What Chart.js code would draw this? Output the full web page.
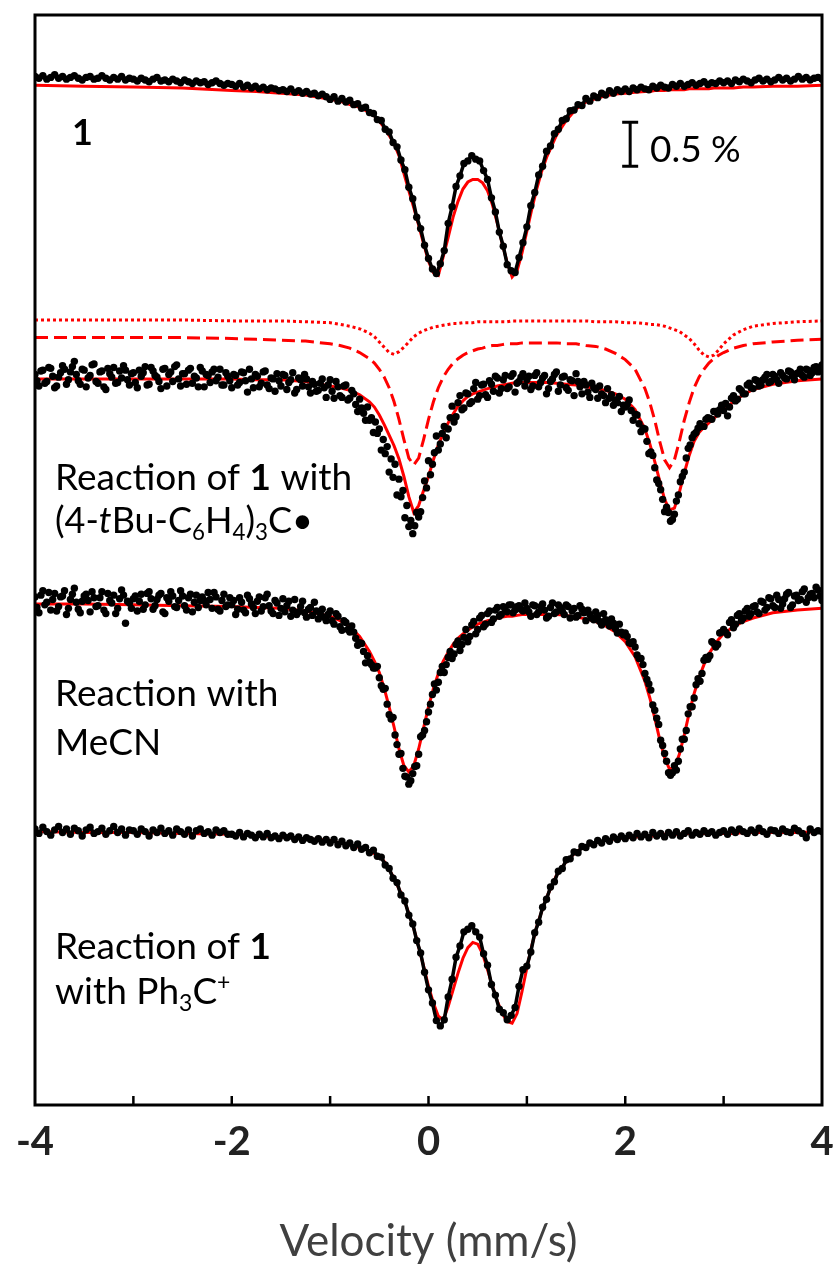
<!DOCTYPE html>
<html>
<head>
<meta charset="utf-8">
<title>Mössbauer spectra</title>
<script src="https://cdn.jsdelivr.net/npm/chart.js@4.4.1/dist/chart.umd.min.js"></script>
<style>
  html, body { margin: 0; padding: 0; background: #fff; }
  #wrap { position: relative; width: 836px; height: 1264px; }
</style>
</head>
<body>
<div id="wrap"><canvas id="moss"></canvas></div>
<script>
// velocity channels of the measured spectra (mm/s)
const dataV = [
  -4,-3.96,-3.92,-3.88,-3.84,-3.8,-3.76,-3.72,-3.68,-3.64,-3.6,-3.56,-3.52,-3.48,-3.44,-3.4,-3.36,-3.32,-3.28,-3.24,-3.2,-3.16,-3.12,-3.08,-3.04,
  -3,-2.96,-2.92,-2.88,-2.84,-2.8,-2.76,-2.72,-2.68,-2.64,-2.6,-2.56,-2.52,-2.48,-2.44,-2.4,-2.36,-2.32,-2.28,-2.24,-2.2,-2.16,-2.12,-2.08,-2.04,
  -2,-1.96,-1.92,-1.88,-1.84,-1.8,-1.76,-1.72,-1.68,-1.64,-1.6,-1.56,-1.52,-1.48,-1.44,-1.4,-1.36,-1.32,-1.28,-1.24,-1.2,-1.16,-1.12,-1.08,-1.04,
  -1,-0.96,-0.92,-0.88,-0.84,-0.8,-0.76,-0.72,-0.68,-0.64,-0.6,-0.56,-0.52,-0.48,-0.44,-0.4,-0.36,-0.32,-0.28,-0.24,-0.2,-0.16,-0.12,-0.08,-0.04,
  0,0.04,0.08,0.12,0.16,0.2,0.24,0.28,0.32,0.36,0.4,0.44,0.48,0.52,0.56,0.6,0.64,0.68,0.72,0.76,0.8,0.84,0.88,0.92,0.96,
  1,1.04,1.08,1.12,1.16,1.2,1.24,1.28,1.32,1.36,1.4,1.44,1.48,1.52,1.56,1.6,1.64,1.68,1.72,1.76,1.8,1.84,1.88,1.92,1.96,
  2,2.04,2.08,2.12,2.16,2.2,2.24,2.28,2.32,2.36,2.4,2.44,2.48,2.52,2.56,2.6,2.64,2.68,2.72,2.76,2.8,2.84,2.88,2.92,2.96,
  3,3.04,3.08,3.12,3.16,3.2,3.24,3.28,3.32,3.36,3.4,3.44,3.48,3.52,3.56,3.6,3.64,3.68,3.72,3.76,3.8,3.84,3.88,3.92,3.96,4
];
// in-between channels, used for the two noisier spectra
const dataVh = [
  -3.98,-3.94,-3.9,-3.86,-3.82,-3.78,-3.74,-3.7,-3.66,-3.62,-3.58,-3.54,-3.5,-3.46,-3.42,-3.38,-3.34,-3.3,-3.26,-3.22,-3.18,-3.14,-3.1,-3.06,-3.02,
  -2.98,-2.94,-2.9,-2.86,-2.82,-2.78,-2.74,-2.7,-2.66,-2.62,-2.58,-2.54,-2.5,-2.46,-2.42,-2.38,-2.34,-2.3,-2.26,-2.22,-2.18,-2.14,-2.1,-2.06,-2.02,
  -1.98,-1.94,-1.9,-1.86,-1.82,-1.78,-1.74,-1.7,-1.66,-1.62,-1.58,-1.54,-1.5,-1.46,-1.42,-1.38,-1.34,-1.3,-1.26,-1.22,-1.18,-1.14,-1.1,-1.06,-1.02,
  -0.98,-0.94,-0.9,-0.86,-0.82,-0.78,-0.74,-0.7,-0.66,-0.62,-0.58,-0.54,-0.5,-0.46,-0.42,-0.38,-0.34,-0.3,-0.26,-0.22,-0.18,-0.14,-0.1,-0.06,-0.02,
  0.02,0.06,0.1,0.14,0.18,0.22,0.26,0.3,0.34,0.38,0.42,0.46,0.5,0.54,0.58,0.62,0.66,0.7,0.74,0.78,0.82,0.86,0.9,0.94,0.98,
  1.02,1.06,1.1,1.14,1.18,1.22,1.26,1.3,1.34,1.38,1.42,1.46,1.5,1.54,1.58,1.62,1.66,1.7,1.74,1.78,1.82,1.86,1.9,1.94,1.98,
  2.02,2.06,2.1,2.14,2.18,2.22,2.26,2.3,2.34,2.38,2.42,2.46,2.5,2.54,2.58,2.62,2.66,2.7,2.74,2.78,2.82,2.86,2.9,2.94,2.98,
  3.02,3.06,3.1,3.14,3.18,3.22,3.26,3.3,3.34,3.38,3.42,3.46,3.5,3.54,3.58,3.62,3.66,3.7,3.74,3.78,3.82,3.86,3.9,3.94,3.98
];

// velocity points of the fitted curves (mm/s)
const fitV = [
  -4,-3.5,-3,-2.5,-2,-1.75,-1.5,-1.25,-1,
  -0.9,-0.8,-0.7,-0.6,
  -0.55,-0.5,-0.45,-0.4,-0.35,-0.3,-0.25,-0.2,-0.15,-0.1,-0.05,0,
  0.05,0.1,0.15,0.2,0.25,0.3,0.35,0.4,0.45,0.5,0.55,0.6,0.65,0.7,0.75,0.8,0.85,0.9,0.95,1,1.05,1.1,1.15,1.2,
  1.3,1.4,1.5,1.6,1.7,1.8,1.9,2,2.1,2.2,
  2.25,2.3,2.35,2.4,2.45,2.5,2.55,2.6,2.65,2.7,2.75,2.8,2.85,2.9,2.95,3,
  3.1,3.2,3.3,3.5,3.75,4
];

// measured spectra: change of transmission in % (0 = baseline)
const obs1 = [
  0.10,0.08,0.11,0.07,0.09,0.12,0.08,0.10,0.07,0.09,0.11,0.08,0.06,0.09,0.10,0.07,0.08,0.11,0.08,0.06,0.09,0.07,0.10,0.06,0.08,
  0.07,0.05,0.08,0.06,0.04,0.07,0.09,0.05,0.06,0.04,0.07,0.05,0.03,0.06,0.04,0.02,0.05,0.03,0.04,0.01,0.03,0.05,0.02,0.00,0.02,
  0.01,-0.01,0.02,-0.02,0.00,-0.03,-0.01,-0.04,-0.02,-0.05,-0.03,-0.04,-0.06,-0.05,-0.07,-0.04,-0.08,-0.06,-0.09,-0.07,-0.10,-0.09,-0.12,-0.10,-0.13,
  -0.16,-0.13,-0.18,-0.15,-0.19,-0.17,-0.22,-0.21,-0.26,-0.25,-0.31,-0.32,-0.39,-0.40,-0.50,-0.53,-0.65,-0.70,-0.85,-0.96,-1.16,-1.29,-1.50,-1.63,-1.82,
  -1.97,-2.09,-2.14,-2.03,-1.88,-1.57,-1.38,-1.15,-1.03,-0.89,-0.86,-0.80,-0.84,-0.86,-0.97,-1.07,-1.28,-1.44,-1.67,-1.83,-2.04,-2.11,-2.13,-1.96,-1.79,
  -1.61,-1.37,-1.22,-1.02,-0.92,-0.75,-0.69,-0.55,-0.50,-0.40,-0.38,-0.29,-0.28,-0.22,-0.23,-0.15,-0.18,-0.12,-0.14,-0.09,-0.11,-0.06,-0.09,-0.05,-0.07,
  -0.04,-0.07,-0.03,-0.05,-0.02,-0.04,-0.05,-0.01,-0.03,0.00,-0.02,-0.03,0.01,-0.01,0.02,-0.01,0.01,0.03,0.00,0.02,0.04,0.01,0.03,0.02,0.05,
  0.03,0.05,0.02,0.06,0.04,0.07,0.05,0.03,0.06,0.08,0.05,0.07,0.04,0.06,0.09,0.06,0.08,0.05,0.07,0.10,0.07,0.09,0.06,0.08,0.09,0.07
];
const obs2 = [
  0.04,-0.09,0.09,-0.04,0.11,-0.11,0.01,0.14,-0.07,0.07,0.19,-0.03,0.10,-0.10,0.03,0.16,-0.06,0.08,-0.13,0.05,0.12,-0.05,0.00,0.09,-0.08,
  0.06,-0.11,0.02,0.13,-0.07,0.08,0.01,-0.12,0.11,0.04,-0.04,0.15,-0.09,0.05,0.09,-0.06,0.00,0.12,-0.10,0.03,0.07,-0.03,0.10,-0.08,0.02,
  -0.11,0.03,-0.05,0.06,-0.16,-0.01,0.04,-0.10,0.07,-0.08,0.00,-0.15,-0.03,0.04,-0.13,-0.02,-0.17,0.00,-0.09,-0.01,-0.17,-0.07,-0.14,-0.01,-0.22,
  -0.02,-0.23,-0.10,-0.22,-0.08,-0.23,-0.18,-0.38,-0.34,-0.48,-0.48,-0.62,-0.63,-0.82,-0.86,-1.07,-1.13,-1.33,-1.35,-1.59,-1.69,-1.77,-1.53,-1.52,-1.17,
  -0.94,-0.98,-0.66,-0.75,-0.55,-0.58,-0.32,-0.44,-0.20,-0.34,-0.18,-0.27,-0.05,-0.20,-0.07,-0.22,-0.07,0.02,-0.17,-0.02,-0.12,0.02,-0.16,-0.04,0.05,
  -0.02,-0.13,0.03,-0.10,0.00,-0.18,-0.04,0.04,-0.15,0.01,-0.11,-0.02,-0.20,-0.04,-0.18,-0.08,-0.22,-0.11,-0.23,-0.18,-0.28,-0.23,-0.31,-0.28,-0.38,
  -0.33,-0.25,-0.48,-0.42,-0.61,-0.58,-0.86,-0.88,-1.16,-1.27,-1.52,-1.53,-1.61,-1.40,-1.18,-1.07,-0.80,-0.68,-0.62,-0.52,-0.55,-0.45,-0.47,-0.38,-0.36,
  -0.37,-0.43,-0.23,-0.26,-0.12,-0.18,-0.08,-0.11,-0.02,-0.09,-0.02,0.04,-0.04,0.02,-0.06,0.03,-0.01,0.07,-0.02,0.06,0.03,0.10,0.03,0.12,0.07,0.15
];
const obs2h = [
  -0.03,0.08,-0.06,0.12,0.02,-0.09,0.06,0.10,-0.02,0.13,0.04,-0.07,0.09,0.00,0.15,-0.04,0.07,-0.10,0.11,0.01,-0.06,0.08,0.14,-0.02,0.05,
  -0.05,0.09,0.06,-0.08,0.12,0.03,-0.04,0.10,-0.09,0.07,0.13,-0.01,0.05,-0.07,0.11,0.02,-0.10,0.08,0.04,-0.05,0.10,0.01,-0.08,0.06,-0.03,
  0.04,-0.08,0.07,-0.03,0.10,-0.11,0.02,-0.06,0.08,-0.12,-0.01,0.05,-0.09,0.03,-0.05,0.06,-0.13,-0.02,0.04,-0.10,-0.04,-0.15,-0.06,-0.11,-0.08,
  -0.15,-0.04,-0.20,-0.09,-0.25,-0.14,-0.30,-0.24,-0.40,-0.33,-0.45,-0.50,-0.58,-0.70,-0.78,-0.92,-0.98,-1.15,-1.28,-1.45,-1.62,-1.68,-1.58,-1.36,-1.25,
  -1.10,-0.85,-0.82,-0.63,-0.68,-0.45,-0.50,-0.28,-0.36,-0.17,-0.29,-0.12,-0.24,-0.08,-0.19,-0.03,-0.15,0.00,-0.12,0.03,-0.10,0.05,-0.06,0.01,-0.09,
  0.02,-0.09,0.06,-0.05,0.03,-0.12,-0.01,0.07,-0.08,0.02,-0.14,-0.03,0.05,-0.10,-0.04,-0.16,-0.06,-0.13,-0.09,-0.20,-0.12,-0.19,-0.25,-0.21,-0.31,
  -0.30,-0.37,-0.41,-0.52,-0.57,-0.72,-0.84,-1.02,-1.20,-1.38,-1.47,-1.63,-1.55,-1.33,-1.12,-0.91,-0.76,-0.64,-0.57,-0.55,-0.47,-0.46,-0.38,-0.41,-0.31,
  -0.29,-0.33,-0.20,-0.24,-0.14,-0.18,-0.06,-0.12,-0.03,-0.08,0.01,-0.05,0.04,-0.02,0.06,0.00,0.08,0.02,0.05,0.10,0.01,0.09,0.06,0.13,0.10
];
const obs3 = [
  0.07,-0.11,0.14,0.01,-0.08,0.11,-0.04,0.08,-0.13,0.04,0.17,-0.07,0.02,0.10,-0.10,0.06,-0.03,0.13,-0.12,0.03,0.09,-0.06,0.15,-0.23,0.00,
  0.05,-0.09,0.10,-0.02,0.13,-0.07,0.04,0.11,-0.12,0.02,0.08,-0.05,0.14,-0.03,0.06,-0.10,0.09,0.03,0.03,0.12,-0.06,0.07,-0.09,0.10,-0.02,
  -0.02,-0.13,0.06,-0.08,0.09,-0.01,-0.12,0.07,-0.04,0.10,-0.09,0.03,-0.14,0.05,-0.03,-0.15,0.04,-0.10,0.02,-0.16,-0.05,0.01,-0.18,-0.07,-0.20,
  -0.09,-0.24,-0.15,-0.31,-0.22,-0.33,-0.33,-0.48,-0.46,-0.68,-0.67,-0.74,-0.72,-0.94,-0.97,-1.27,-1.30,-1.61,-1.71,-1.97,-2.06,-1.94,-1.85,-1.52,-1.45,
  -1.24,-1.04,-0.99,-0.79,-0.79,-0.62,-0.63,-0.47,-0.54,-0.39,-0.44,-0.25,-0.35,-0.17,-0.27,-0.12,-0.22,-0.08,-0.15,-0.04,-0.10,-0.02,-0.08,-0.03,-0.09,
  -0.06,-0.15,-0.03,-0.10,-0.01,-0.17,-0.05,-0.12,-0.02,-0.09,-0.02,-0.17,-0.06,-0.14,-0.07,-0.20,-0.13,-0.19,-0.14,-0.25,-0.19,-0.26,-0.23,-0.34,-0.33,
  -0.34,-0.45,-0.44,-0.59,-0.63,-0.80,-0.92,-1.16,-1.31,-1.56,-1.71,-1.93,-1.93,-1.90,-1.66,-1.55,-1.26,-1.18,-0.93,-0.89,-0.65,-0.64,-0.44,-0.50,-0.34,
  -0.30,-0.36,-0.19,-0.24,-0.12,-0.17,-0.06,-0.12,-0.03,-0.12,0.01,-0.05,0.05,-0.05,0.04,-0.01,0.10,-0.05,0.08,0.03,0.13,0.01,0.10,0.06,0.15,0.03
];
const obs3h = [
  -0.05,0.09,-0.02,0.12,0.04,-0.09,0.07,0.14,-0.06,0.10,0.01,-0.11,0.08,0.03,0.13,-0.04,0.06,-0.08,0.11,0.00,-0.12,0.05,0.09,0.02,-0.06,
  0.08,0.02,-0.07,0.11,0.05,-0.03,0.09,-0.10,0.06,0.13,-0.04,0.03,0.08,-0.08,0.10,0.01,-0.05,0.07,-0.02,0.04,0.12,-0.07,0.03,-0.04,0.06,
  0.03,-0.07,0.01,-0.11,0.05,-0.05,0.02,-0.09,0.06,-0.03,-0.12,0.00,-0.06,-0.10,0.02,-0.08,-0.13,-0.04,-0.11,-0.07,-0.14,-0.09,-0.12,-0.16,-0.13,
  -0.20,-0.12,-0.27,-0.20,-0.30,-0.26,-0.40,-0.45,-0.55,-0.60,-0.70,-0.74,-0.85,-0.98,-1.15,-1.32,-1.50,-1.72,-1.88,-1.98,-2.02,-1.86,-1.72,-1.50,-1.35,
  -1.15,-0.92,-0.90,-0.72,-0.70,-0.55,-0.58,-0.43,-0.47,-0.30,-0.38,-0.21,-0.30,-0.14,-0.24,-0.09,-0.18,-0.05,-0.13,-0.08,-0.02,-0.11,-0.04,-0.07,0.00,
  -0.10,-0.02,-0.13,-0.04,-0.08,-0.15,0.00,-0.10,-0.05,-0.13,-0.04,-0.09,-0.16,-0.03,-0.11,-0.08,-0.17,-0.10,-0.21,-0.12,-0.22,-0.18,-0.29,-0.24,-0.36,
  -0.38,-0.46,-0.50,-0.63,-0.70,-0.87,-0.99,-1.22,-1.38,-1.62,-1.80,-1.96,-1.85,-1.80,-1.55,-1.45,-1.18,-1.08,-0.86,-0.80,-0.62,-0.60,-0.46,-0.47,-0.33,
  -0.33,-0.22,-0.28,-0.14,-0.20,-0.09,-0.15,-0.04,-0.10,0.02,-0.08,0.06,-0.03,0.09,-0.06,0.05,0.12,-0.02,0.09,0.04,0.16,0.06,0.11,0.18,0.08
];
const obs4 = [
  0.03,-0.02,0.05,0.00,-0.04,0.02,0.06,-0.01,0.03,-0.03,0.04,0.01,-0.05,0.02,0.05,-0.02,0.00,0.04,-0.03,0.01,0.06,-0.01,0.03,-0.04,0.02,
  0.01,-0.03,0.03,0.00,-0.05,0.02,-0.01,0.04,-0.02,0.01,-0.04,0.03,0.00,-0.03,0.02,-0.05,0.01,0.03,-0.02,0.00,-0.04,0.02,-0.01,0.01,-0.03,
  -0.03,-0.05,-0.01,-0.06,-0.02,-0.04,-0.07,-0.03,-0.06,-0.02,-0.07,-0.05,-0.08,-0.04,-0.07,-0.05,-0.09,-0.06,-0.10,-0.07,-0.09,-0.11,-0.08,-0.12,-0.09,
  -0.13,-0.09,-0.15,-0.11,-0.16,-0.13,-0.18,-0.14,-0.20,-0.18,-0.24,-0.21,-0.28,-0.29,-0.38,-0.42,-0.53,-0.58,-0.72,-0.79,-0.95,-1.05,-1.24,-1.38,-1.60,
  -1.80,-1.95,-2.15,-2.21,-2.14,-1.88,-1.68,-1.43,-1.30,-1.14,-1.11,-1.07,-1.14,-1.20,-1.39,-1.52,-1.74,-1.86,-2.02,-2.06,-2.14,-2.09,-2.00,-1.76,-1.57,
  -1.53,-1.37,-1.15,-1.03,-0.86,-0.77,-0.63,-0.57,-0.45,-0.42,-0.32,-0.31,-0.23,-0.24,-0.17,-0.18,-0.13,-0.15,-0.10,-0.13,-0.08,-0.11,-0.06,-0.09,-0.05,
  -0.08,-0.04,-0.07,-0.02,-0.06,-0.03,-0.07,-0.01,-0.05,-0.02,-0.06,-0.01,-0.04,0.00,-0.05,-0.02,0.01,-0.04,-0.01,-0.03,0.01,-0.02,0.00,-0.04,-0.01,
  0.01,-0.03,0.02,-0.01,0.03,0.00,-0.02,0.02,-0.01,0.04,0.00,-0.03,0.02,0.01,-0.02,0.03,0.00,-0.01,0.04,0.01,-0.02,-0.07,0.03,-0.01,0.01,0.00
];

// fitted curves (same units, on fitV)
const fit1 = [
  0,-0.01,-0.02,-0.03,-0.06,-0.07,-0.09,-0.11,-0.16,
  -0.18,-0.22,-0.25,-0.31,
  -0.35,-0.41,-0.48,-0.57,-0.66,-0.80,-1.00,-1.20,-1.39,-1.59,-1.80,-2.00,
  -2.13,-2.16,-1.95,-1.73,-1.50,-1.32,-1.18,-1.10,-1.07,-1.07,-1.11,-1.20,-1.36,-1.57,-1.80,-2.02,-2.18,-2.11,-1.91,-1.66,-1.41,-1.18,-0.98,-0.82,
  -0.57,-0.40,-0.27,-0.19,-0.15,-0.12,-0.10,-0.09,-0.08,-0.07,
  -0.07,-0.06,-0.06,-0.06,-0.05,-0.05,-0.05,-0.05,-0.04,-0.04,-0.04,-0.04,-0.04,-0.03,-0.03,-0.03,
  -0.03,-0.02,-0.02,-0.01,-0.01,0
];
const fit2 = [
  -0.01,-0.01,-0.01,-0.01,-0.01,-0.02,-0.02,-0.04,-0.09,
  -0.11,-0.14,-0.19,-0.27,
  -0.33,-0.42,-0.53,-0.65,-0.77,-0.92,-1.12,-1.35,-1.53,-1.45,-1.28,-1.12,
  -0.93,-0.76,-0.63,-0.51,-0.41,-0.32,-0.26,-0.21,-0.18,-0.16,-0.14,-0.12,-0.11,-0.09,-0.08,-0.07,-0.06,-0.05,-0.05,-0.05,-0.05,-0.05,-0.05,-0.05,
  -0.06,-0.07,-0.08,-0.10,-0.12,-0.14,-0.18,-0.24,-0.36,-0.58,
  -0.75,-0.95,-1.17,-1.38,-1.50,-1.48,-1.30,-1.08,-0.88,-0.72,-0.62,-0.56,-0.51,-0.46,-0.41,-0.36,
  -0.27,-0.19,-0.13,-0.07,-0.03,-0.01
];
// the two sub-spectra of the second fit (dashed and dotted)
const fit2a = [
  -0.01,-0.01,-0.01,-0.01,-0.02,-0.03,-0.04,-0.05,-0.08,
  -0.10,-0.13,-0.18,-0.25,
  -0.30,-0.37,-0.46,-0.58,-0.74,-0.94,-1.17,-1.38,-1.46,-1.38,-1.17,-0.94,
  -0.74,-0.58,-0.46,-0.37,-0.30,-0.25,-0.21,-0.18,-0.16,-0.14,-0.13,-0.11,-0.10,-0.10,-0.09,-0.08,-0.08,-0.08,-0.07,-0.07,-0.07,-0.07,-0.07,-0.07,
  -0.07,-0.08,-0.08,-0.10,-0.11,-0.14,-0.19,-0.26,-0.37,-0.59,
  -0.75,-0.95,-1.19,-1.40,-1.49,-1.40,-1.19,-0.95,-0.75,-0.58,-0.46,-0.37,-0.30,-0.25,-0.21,-0.18,
  -0.13,-0.10,-0.08,-0.06,-0.04,-0.03
];
const fit2b = [
  0,0,0,0,-0.01,-0.01,-0.01,-0.02,-0.03,
  -0.05,-0.07,-0.10,-0.15,
  -0.19,-0.25,-0.31,-0.37,-0.39,-0.36,-0.31,-0.25,-0.19,-0.15,-0.12,-0.10,
  -0.08,-0.07,-0.06,-0.05,-0.04,-0.04,-0.03,-0.03,-0.03,-0.02,-0.02,-0.02,-0.02,-0.02,-0.02,-0.02,-0.01,-0.01,-0.01,-0.01,-0.01,-0.01,-0.01,-0.01,
  -0.01,-0.01,-0.01,-0.01,-0.02,-0.02,-0.02,-0.03,-0.03,-0.04,
  -0.05,-0.05,-0.06,-0.07,-0.09,-0.11,-0.13,-0.17,-0.21,-0.27,-0.34,-0.40,-0.42,-0.40,-0.34,-0.27,
  -0.17,-0.11,-0.07,-0.04,-0.02,-0.01
];
const fit3 = [
  -0.01,-0.01,-0.02,-0.03,-0.04,-0.05,-0.06,-0.09,-0.15,
  -0.20,-0.27,-0.38,-0.55,
  -0.66,-0.79,-0.97,-1.18,-1.41,-1.66,-1.85,-1.92,-1.85,-1.66,-1.42,-1.18,
  -0.97,-0.80,-0.66,-0.56,-0.47,-0.40,-0.35,-0.31,-0.27,-0.24,-0.22,-0.20,-0.19,-0.17,-0.16,-0.15,-0.15,-0.14,-0.13,-0.13,-0.13,-0.13,-0.13,-0.13,
  -0.13,-0.14,-0.16,-0.18,-0.21,-0.26,-0.33,-0.44,-0.61,-0.89,
  -1.08,-1.31,-1.55,-1.76,-1.89,-1.87,-1.72,-1.50,-1.25,-1.03,-0.85,-0.70,-0.58,-0.49,-0.41,-0.35,
  -0.27,-0.21,-0.17,-0.11,-0.08,-0.06
];
const fit4 = [
  0,-0.01,-0.01,-0.02,-0.03,-0.05,-0.06,-0.08,-0.10,
  -0.13,-0.15,-0.18,-0.22,
  -0.25,-0.28,-0.34,-0.43,-0.53,-0.65,-0.77,-0.93,-1.10,-1.31,-1.53,-1.76,
  -1.95,-2.10,-2.14,-1.99,-1.80,-1.61,-1.44,-1.32,-1.26,-1.28,-1.39,-1.57,-1.76,-1.93,-2.07,-2.16,-2.18,-2.07,-1.82,-1.55,-1.30,-1.08,-0.91,-0.75,
  -0.50,-0.34,-0.23,-0.16,-0.13,-0.10,-0.08,-0.07,-0.06,-0.05,
  -0.05,-0.05,-0.03,-0.03,-0.03,-0.03,-0.03,-0.02,-0.02,-0.02,-0.02,-0.02,-0.02,-0.02,-0.02,-0.02,
  -0.02,-0.01,-0.01,-0.01,-0.01,0
];

// vertical offsets used to stack the spectra (%)
const offset1 = 0;
const offset2 = -3.33;
const offset2a = -2.86;
const offset2b = -2.67;
const offset3 = -5.89;
const offset4 = -8.49;

// axis
const xMin = -4, xMax = 4, xLabelStep = 2;
const minorTicks = [-3, -2, -1, 0, 1, 2, 3];
const yMin = -11.6, yMax = 0.8;

// 0.5 % scale bar (velocity, top of the bar)
const barV = 2.05, barTop = -0.42, barLen = 0.5;

const RED = '#ff0000';
const FONT = 'Lato, "Open Sans", sans-serif';

function pts(xs, ys, off) {
  return xs.map((v, i) => ({ x: v, y: ys[i] + off }));
}

function measured(xs, ys, off, line) {
  return {
    data: pts(xs, ys, off),
    showLine: line > 0,
    borderColor: '#000',
    borderWidth: line,
    backgroundColor: '#000',
    pointBorderWidth: 0,
    pointRadius: 3.7,
    order: 0
  };
}

function fitted(ys, off, width, dash, order) {
  return {
    data: pts(fitV, ys, off),
    showLine: true,
    borderColor: RED,
    borderWidth: width,
    borderDash: dash,
    pointRadius: 0,
    tension: 0,
    order: order
  };
}

// text next to the traces: runs of plain / bold / italic / sub / sup text
const notes = [
  { x: 72, y: 145, size: 36, runs: [{ t: '1', b: true }] },
  { x: 650, y: 162, size: 37, runs: [{ t: '0.5 %' }] },
  { x: 55, y: 490, size: 37, runs: [{ t: 'Reaction of ' }, { t: '1', b: true }, { t: ' with' }] },
  { x: 55, y: 533, size: 36, runs: [{ t: '(4-' }, { t: 't', i: true }, { t: 'Bu-C' }, { t: '6', sub: true }, { t: 'H' }, { t: '4', sub: true }, { t: ')' }, { t: '3', sub: true }, { t: 'C•' }] },
  { x: 55, y: 706, size: 37, runs: [{ t: 'Reaction with' }] },
  { x: 55, y: 755, size: 37, runs: [{ t: 'MeCN' }] },
  { x: 55, y: 959, size: 37, runs: [{ t: 'Reaction of ' }, { t: '1', b: true }] },
  { x: 55, y: 1004, size: 37, runs: [{ t: 'with Ph' }, { t: '3', sub: true }, { t: 'C' }, { t: '+', sup: true }] }
];

function drawRuns(ctx, note) {
  let cx = note.x;
  note.runs.forEach(r => {
    let s = note.size, dy = 0;
    if (r.sub) { s = note.size * 0.62; dy = note.size * 0.2; }
    if (r.sup) { s = note.size * 0.62; dy = -note.size * 0.38; }
    ctx.font = (r.i ? 'italic ' : '') + (r.b ? 'bold ' : '') + s + 'px ' + FONT;
    ctx.fillText(r.t, cx, note.y + dy);
    cx += ctx.measureText(r.t).width;
  });
}

// frame, inward ticks, scale bar and the text
const decorations = {
  id: 'decorations',
  afterDraw(chart) {
    const { ctx, chartArea: a, scales: { x, y } } = chart;
    ctx.save();
    ctx.strokeStyle = '#000';
    ctx.lineCap = 'butt';

    ctx.lineWidth = 2.5;
    minorTicks.forEach(v => {
      const px = x.getPixelForValue(v);
      ctx.beginPath();
      ctx.moveTo(px, a.bottom);
      ctx.lineTo(px, a.bottom - 9);
      ctx.stroke();
    });

    ctx.lineWidth = 3;
    ctx.strokeRect(a.left, a.top, a.right - a.left, a.bottom - a.top);

    const bx = x.getPixelForValue(barV);
    const b1 = y.getPixelForValue(barTop);
    const b2 = y.getPixelForValue(barTop - barLen);
    ctx.lineWidth = 3;
    ctx.beginPath();
    ctx.moveTo(bx, b1); ctx.lineTo(bx, b2);
    ctx.moveTo(bx - 8, b1); ctx.lineTo(bx + 8, b1);
    ctx.moveTo(bx - 8, b2); ctx.lineTo(bx + 8, b2);
    ctx.stroke();

    ctx.fillStyle = '#000';
    ctx.textBaseline = 'alphabetic';
    ctx.textAlign = 'left';
    notes.forEach(n => drawRuns(ctx, n));
    ctx.restore();
  }
};

new Chart(document.getElementById('moss'), {
  type: 'scatter',
  data: {
    datasets: [
      measured(dataV, obs1, offset1, 3.5),
      measured(dataV, obs2, offset2, 0),
      measured(dataVh, obs2h, offset2, 0),
      measured(dataV, obs3, offset3, 0),
      measured(dataVh, obs3h, offset3, 0),
      measured(dataV, obs4, offset4, 3.5),
      fitted(fit1, offset1, 3, [], 1),
      fitted(fit2, offset2, 3, [], 1),
      fitted(fit3, offset3, 3, [], 1),
      fitted(fit4, offset4, 3, [], 1),
      fitted(fit2a, offset2a, 3, [13, 6], 2),
      fitted(fit2b, offset2b, 3, [3, 3], 2)
    ]
  },
  options: {
    responsive: true,
    maintainAspectRatio: false,
    animation: false,
    devicePixelRatio: 1,
    layout: { padding: { left: 35, right: 14, top: 15, bottom: 0 } },
    plugins: {
      legend: { display: false },
      tooltip: { enabled: false }
    },
    scales: {
      x: {
        type: 'linear',
        min: xMin,
        max: xMax,
        grid: { display: false, drawTicks: false },
        border: { display: false },
        ticks: {
          stepSize: xLabelStep,
          padding: 0,
          color: '#222',
          font: { family: FONT, size: 40, weight: 'bold', lineHeight: 1.85 },
          callback: v => String(v)
        },
        title: {
          display: true,
          text: 'Velocity (mm/s)',
          color: '#404040',
          font: { family: FONT, size: 44, lineHeight: 1 },
          padding: { top: 41, bottom: 0 }
        }
      },
      y: {
        display: false,
        min: yMin,
        max: yMax
      }
    }
  },
  plugins: [decorations]
});
</script>
</body>
</html>
